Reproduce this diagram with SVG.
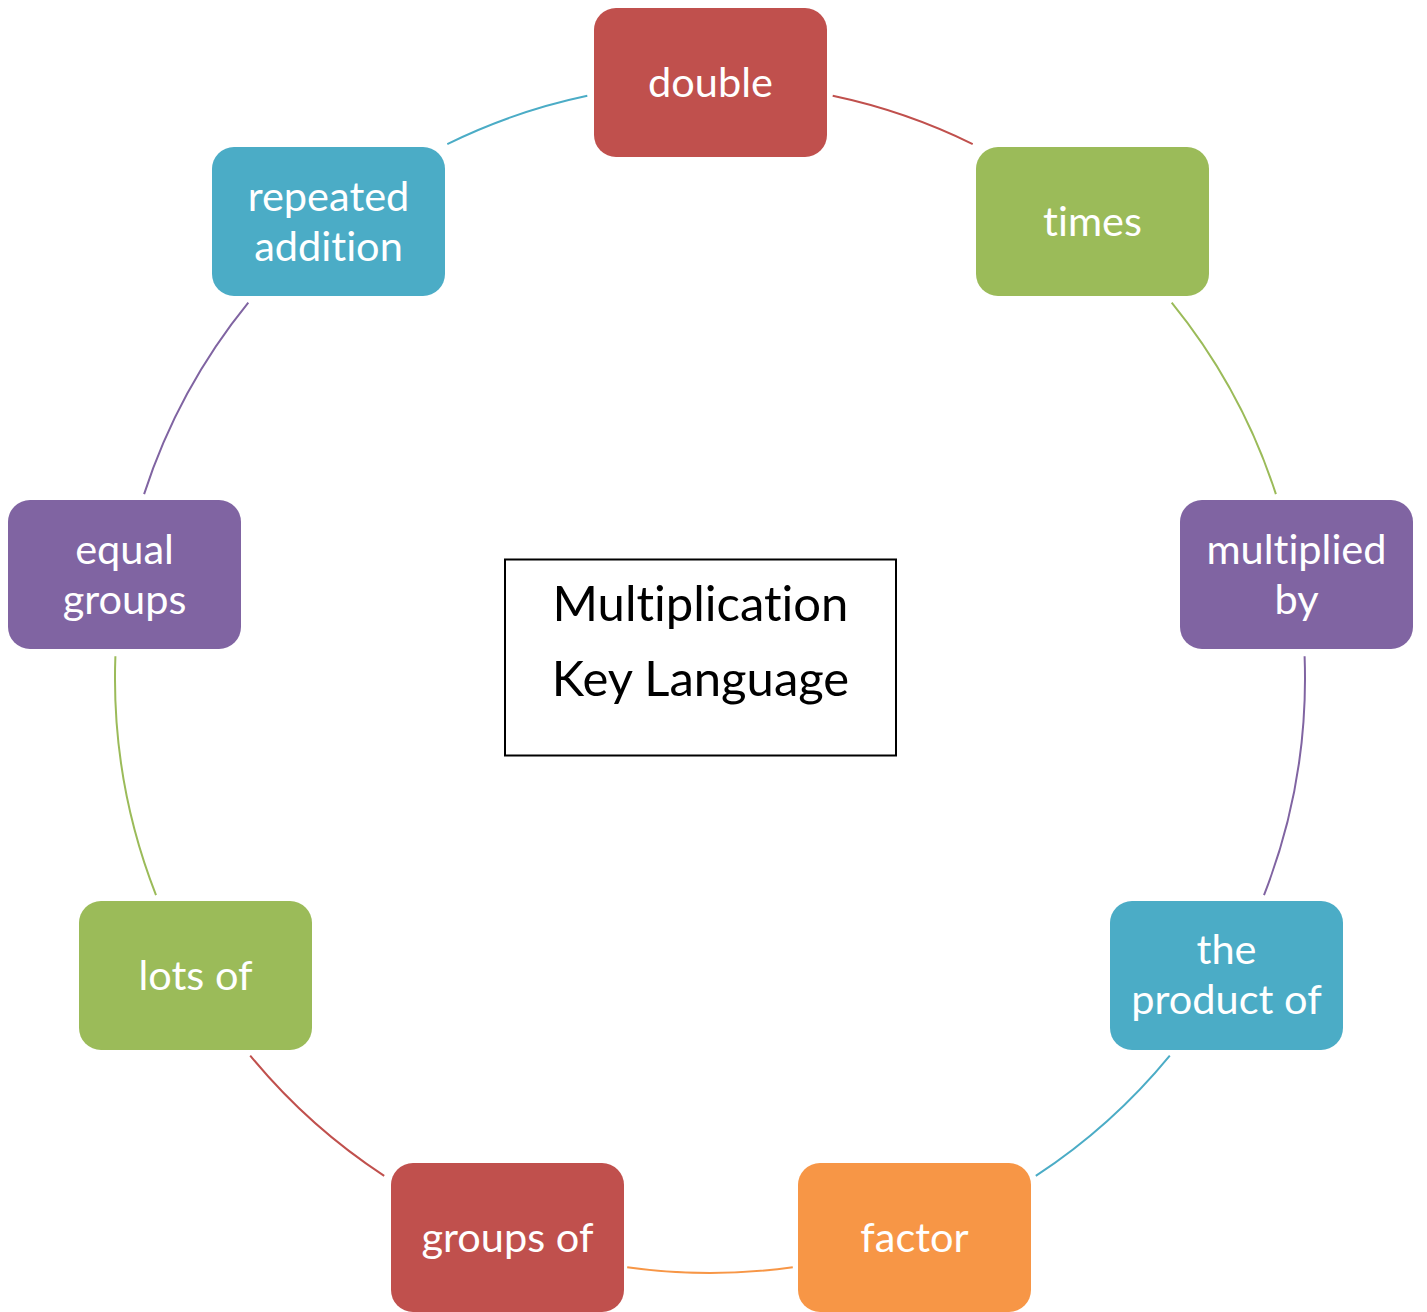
<svg xmlns="http://www.w3.org/2000/svg" width="1427" height="1312" viewBox="0 0 1427 1312">
<style>
.node text{font-family:Lato,"Open Sans","Liberation Sans",sans-serif;font-size:41.5px;fill:#fff;text-anchor:middle;font-variant-ligatures:none}
.conn path{fill:none;stroke-width:2}
.red{fill:#C0504D}.green{fill:#9BBB59}.purple{fill:#8064A2}.blue{fill:#4BACC6}.orange{fill:#F79646}
.center text{font-family:Lato,"Open Sans","Liberation Sans",sans-serif;font-size:49px;fill:#000;text-anchor:middle;font-variant-ligatures:none}
</style>
<rect width="1427" height="1312" fill="#fff"/>
<g id="connectors" class="conn">
<path d="M832.7 95.8 A595 595 0 0 1 972.7 144.1" stroke="#C0504D"/>
<path d="M1171.7 302.7 A595 595 0 0 1 1275.9 494.1" stroke="#9BBB59"/>
<path d="M1304.6 656.2 A595 595 0 0 1 1264 895.1" stroke="#8064A2"/>
<path d="M1169.8 1055.6 A595 595 0 0 1 1035.8 1175.9" stroke="#4BACC6"/>
<path d="M792.8 1267.2 A595 595 0 0 1 627.2 1267.2" stroke="#F79646"/>
<path d="M384.2 1175.9 A595 595 0 0 1 250.2 1055.6" stroke="#C0504D"/>
<path d="M156 895.1 A595 595 0 0 1 115.4 656.2" stroke="#9BBB59"/>
<path d="M144.1 494.1 A595 595 0 0 1 248.3 302.7" stroke="#8064A2"/>
<path d="M447.3 144.1 A595 595 0 0 1 587.3 95.8" stroke="#4BACC6"/>
</g>
<g id="center" class="center">
<rect x="505" y="559.5" width="391" height="196" fill="#fff" stroke="#000" stroke-width="2"/>
<text x="700.5" y="621">Multiplication</text>
<text x="700.5" y="696">Key Language</text>
</g>
<g id="n-double" class="node"><rect class="red" x="594" y="8" width="233" height="149" rx="22"/><text x="710.5" y="97">double</text></g>
<g id="n-times" class="node"><rect class="green" x="976" y="147" width="233" height="149" rx="22"/><text x="1092.5" y="236">times</text></g>
<g id="n-multiplied" class="node"><rect class="purple" x="1180" y="500" width="233" height="149" rx="22"/><text x="1296.5" y="564">multiplied</text><text x="1296.5" y="614">by</text></g>
<g id="n-product" class="node"><rect class="blue" x="1110" y="901" width="233" height="149" rx="22"/><text x="1226.5" y="964">the</text><text x="1226.5" y="1014">product of</text></g>
<g id="n-factor" class="node"><rect class="orange" x="798" y="1163" width="233" height="149" rx="22"/><text x="914.5" y="1252">factor</text></g>
<g id="n-groupsof" class="node"><rect class="red" x="391" y="1163" width="233" height="149" rx="22"/><text x="507.5" y="1252">groups of</text></g>
<g id="n-lotsof" class="node"><rect class="green" x="79" y="901" width="233" height="149" rx="22"/><text x="195.5" y="990">lots of</text></g>
<g id="n-equal" class="node"><rect class="purple" x="8" y="500" width="233" height="149" rx="22"/><text x="124.5" y="564">equal</text><text x="124.5" y="614">groups</text></g>
<g id="n-repeated" class="node"><rect class="blue" x="212" y="147" width="233" height="149" rx="22"/><text x="328.5" y="211">repeated</text><text x="328.5" y="261">addition</text></g>
</svg>
